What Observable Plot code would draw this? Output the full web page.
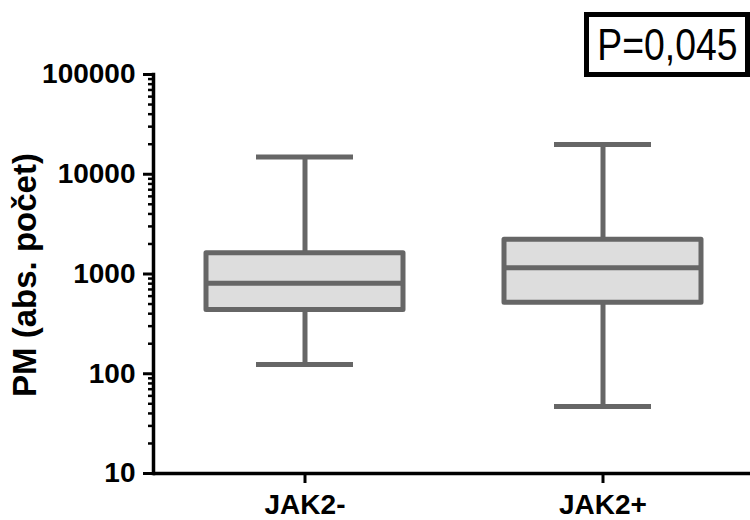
<!DOCTYPE html>
<html>
<head>
<meta charset="utf-8">
<script src="https://cdn.jsdelivr.net/npm/d3@7"></script>
<script src="https://cdn.jsdelivr.net/npm/@observablehq/plot@0.6"></script>
<style>
  body { margin: 0; background: white; }
  #wrap { position: relative; width: 750px; height: 520px; }
  #pbox {
    position: absolute; left: 584px; top: 12px; width: 166px; height: 65px;
    box-sizing: border-box; border: 5px solid black; background: white;
    display: flex; align-items: center; justify-content: center;
    font-family: "Liberation Sans", Arial, sans-serif; font-size: 45px; font-weight: normal;
    overflow: hidden;
  }
  #pbox span { display: inline-block; transform: scaleX(0.83); white-space: nowrap; line-height: 1; }
</style>
</head>
<body>
<div id="wrap"></div>
<script>
const groups = ["JAK2-", "JAK2+"];
const mins = [124, 47];
const q1s = [436, 515];
const medians = [807, 1153];
const q3s = [1611, 2208];
const maxs = [14900, 19900];

const majorTicks = [10, 100, 1000, 10000, 100000];
const minorTicks = [20, 30, 40, 50, 60, 70, 80, 90,
  200, 300, 400, 500, 600, 700, 800, 900,
  2000, 3000, 4000, 5000, 6000, 7000, 8000, 9000,
  20000, 30000, 40000, 50000, 60000, 70000, 80000, 90000];
const yLabel = "PM (abs. počet)";
const pText = "P=0,045";

const data = groups.map((g, i) => ({group: g, min: mins[i], q1: q1s[i], median: medians[i], q3: q3s[i], max: maxs[i]}));

const boxStroke = "#666666";
const boxFill = "#dddddd";

const plot = Plot.plot({
  width: 750,
  height: 520,
  marginLeft: 153,
  marginRight: 0,
  marginTop: 74,
  marginBottom: 47,
  style: {fontFamily: "'Liberation Sans', Arial, sans-serif", fontSize: "28px", fontWeight: "bold", background: "white", color: "black"},
  x: {type: "band", domain: groups, range: [205.5, 701], paddingInner: 0.34, paddingOuter: 0, label: null},
  y: {type: "log", domain: [10, 100000], label: null},
  marks: [
    Plot.ruleX(data, {x: "group", y1: "q3", y2: "max", stroke: boxStroke, strokeWidth: 5}),
    Plot.ruleX(data, {x: "group", y1: "min", y2: "q1", stroke: boxStroke, strokeWidth: 5}),
    Plot.tickY(data, {x: "group", y: "max", stroke: boxStroke, strokeWidth: 5, insetLeft: 50, insetRight: 50}),
    Plot.tickY(data, {x: "group", y: "min", stroke: boxStroke, strokeWidth: 5, insetLeft: 50, insetRight: 50}),
    Plot.barY(data, {x: "group", y1: "q1", y2: "q3", fill: boxFill, stroke: boxStroke, strokeWidth: 5, strokeLinejoin: "round"}),
    Plot.tickY(data, {x: "group", y: "median", stroke: boxStroke, strokeWidth: 5}),
    Plot.axisY({ticks: minorTicks, tickSize: 5, tickFormat: () => "", strokeWidth: 2.5, label: null}),
    Plot.axisY({ticks: majorTicks, tickSize: 10, tickPadding: 8, tickFormat: d => String(d), strokeWidth: 3, fontSize: 28, fontWeight: "bold", label: null}),
    Plot.axisX({tickSize: 10, tickPadding: 11, strokeWidth: 3, fontSize: 28, fontWeight: "bold", label: null}),
    Plot.ruleY([10], {stroke: "black", strokeWidth: 3.5}),
    Plot.frame({anchor: "left", stroke: "black", strokeWidth: 3.5}),
    Plot.text([yLabel], {text: d => d, frameAnchor: "left", textAnchor: "middle", rotate: -90, dx: -118, dy: 1, lineAnchor: "bottom", fontSize: 33, fontWeight: "bold", fill: "black"})
  ]
});

const wrap = document.getElementById("wrap");
wrap.appendChild(plot);
const pb = document.createElement("div");
pb.id = "pbox";
const sp = document.createElement("span");
sp.textContent = pText;
pb.appendChild(sp);
wrap.appendChild(pb);
</script>
</body>
</html>
